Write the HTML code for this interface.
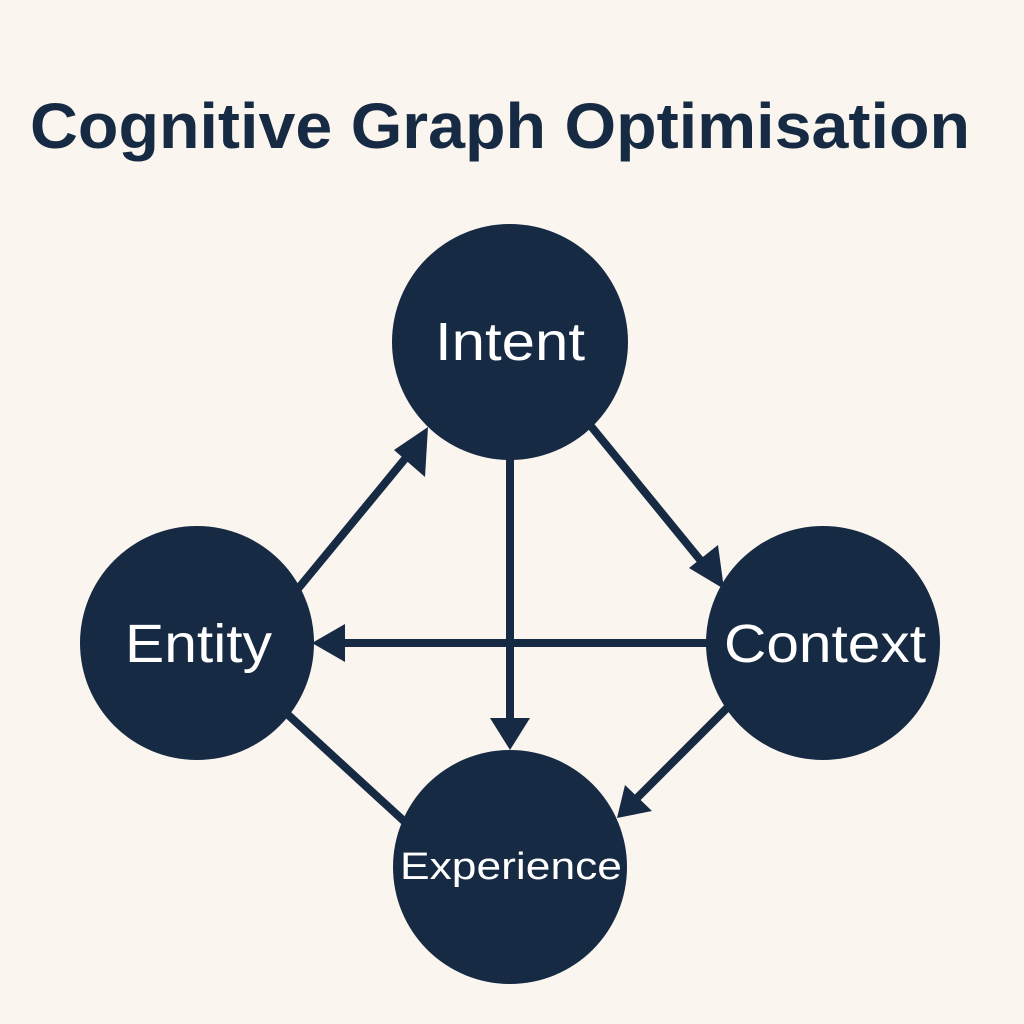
<!DOCTYPE html>
<html><head><style>
html,body{margin:0;padding:0;background:#faf5ee;}
svg{display:block}
</style></head><body>
<svg width="1024" height="1024" viewBox="0 0 1024 1024" xmlns="http://www.w3.org/2000/svg">
<rect width="1024" height="1024" fill="#faf5ee"/>
<text x="30" y="148" font-family="Liberation Sans, sans-serif" font-size="64" font-weight="bold" fill="#172a43" textLength="940" lengthAdjust="spacingAndGlyphs">Cognitive Graph Optimisation</text>
<g stroke="#172a43" stroke-width="8" fill="none">
<line x1="297" y1="590" x2="418" y2="443"/>
<line x1="590" y1="425" x2="710" y2="572"/>
<line x1="510" y1="455" x2="510" y2="722"/>
<line x1="712" y1="643" x2="340" y2="643"/>
<line x1="730" y1="705" x2="635" y2="800"/>
<line x1="285" y1="712" x2="405" y2="822"/>
</g>
<g fill="#172a43">
<polygon points="428,427 394,450 425,477"/>
<polygon points="724,589 689,568 718,545"/>
<polygon points="510,750 490,718 530,718"/>
<polygon points="312,643 345,624 345,662"/>
<polygon points="617,818 652,811 625,785"/>
<circle cx="510" cy="342" r="118"/>
<circle cx="197" cy="643" r="117"/>
<circle cx="823" cy="643" r="117"/>
<circle cx="510" cy="867" r="117"/>
</g>
<g font-family="Liberation Sans, sans-serif" fill="#ffffff">
<text x="435" y="360" font-size="54" textLength="150" lengthAdjust="spacingAndGlyphs">Intent</text>
<text x="125" y="662" font-size="54" textLength="147" lengthAdjust="spacingAndGlyphs">Entity</text>
<text x="724" y="662" font-size="54" textLength="202" lengthAdjust="spacingAndGlyphs">Context</text>
<text x="400" y="879" font-size="38" textLength="222" lengthAdjust="spacingAndGlyphs">Experience</text>
</g>
</svg>
</body></html>
